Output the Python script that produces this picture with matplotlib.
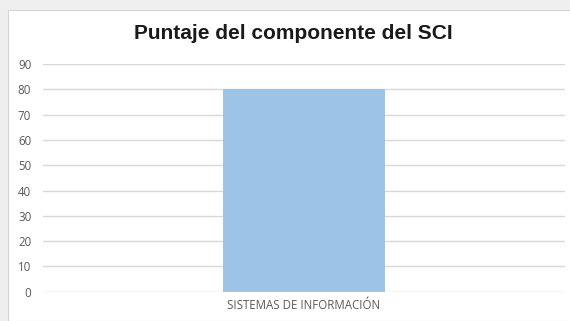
import matplotlib
matplotlib.use("Agg")
import matplotlib.pyplot as plt
from matplotlib.patches import Rectangle

# datos del grafico
categorias = ["SISTEMAS DE INFORMACIÓN"]
puntajes = [80]
ticks_y = [0, 10, 20, 30, 40, 50, 60, 70, 80, 90]
titulo = "Puntaje del componente del SCI"

W, H = 570, 321
fig = plt.figure(figsize=(W / 100, H / 100), dpi=100)
fig.patch.set_facecolor("#efefef")

# area blanca del grafico (como en Excel)
fig.patches.append(Rectangle((8 / W, 0), 1, 1 - 10 / H, transform=fig.transFigure,
                             facecolor="white", edgecolor="#d4d4d4", linewidth=0.8, zorder=-1))

ax = fig.add_axes([43 / W, 1 - 291.7 / H, (565 - 43) / W, (291.7 - 64) / H])
ax.set_zorder(1)
ax.set_facecolor("none")

ax.bar(range(len(categorias)), puntajes, width=0.312, color="#9dc3e6", zorder=2)

ax.set_xlim(-0.5, 0.5)
ax.set_ylim(0, 90)
ax.set_yticks(ticks_y)
ax.set_xticks(range(len(categorias)))
ax.set_xticklabels(categorias)

ax.grid(axis="y", color="#d9d9d9", linewidth=1.0, zorder=0)
ax.set_axisbelow(True)
for s in ax.spines.values():
    s.set_visible(False)

ax.tick_params(axis="both", length=0, labelsize=8.3, labelcolor="#595959")
ax.tick_params(axis="y", pad=8.5)
ax.tick_params(axis="x", pad=5)
for lab in ax.get_xticklabels() + ax.get_yticklabels():
    lab.set_fontfamily("Open Sans")

fig.text(293 / W, 1 - 39 / H, titulo, ha="center", va="baseline",
         fontsize=15, fontweight="bold", fontfamily="Liberation Sans", color="#1a1a1a")

fig.savefig("out.png", dpi=100, facecolor=fig.get_facecolor())
